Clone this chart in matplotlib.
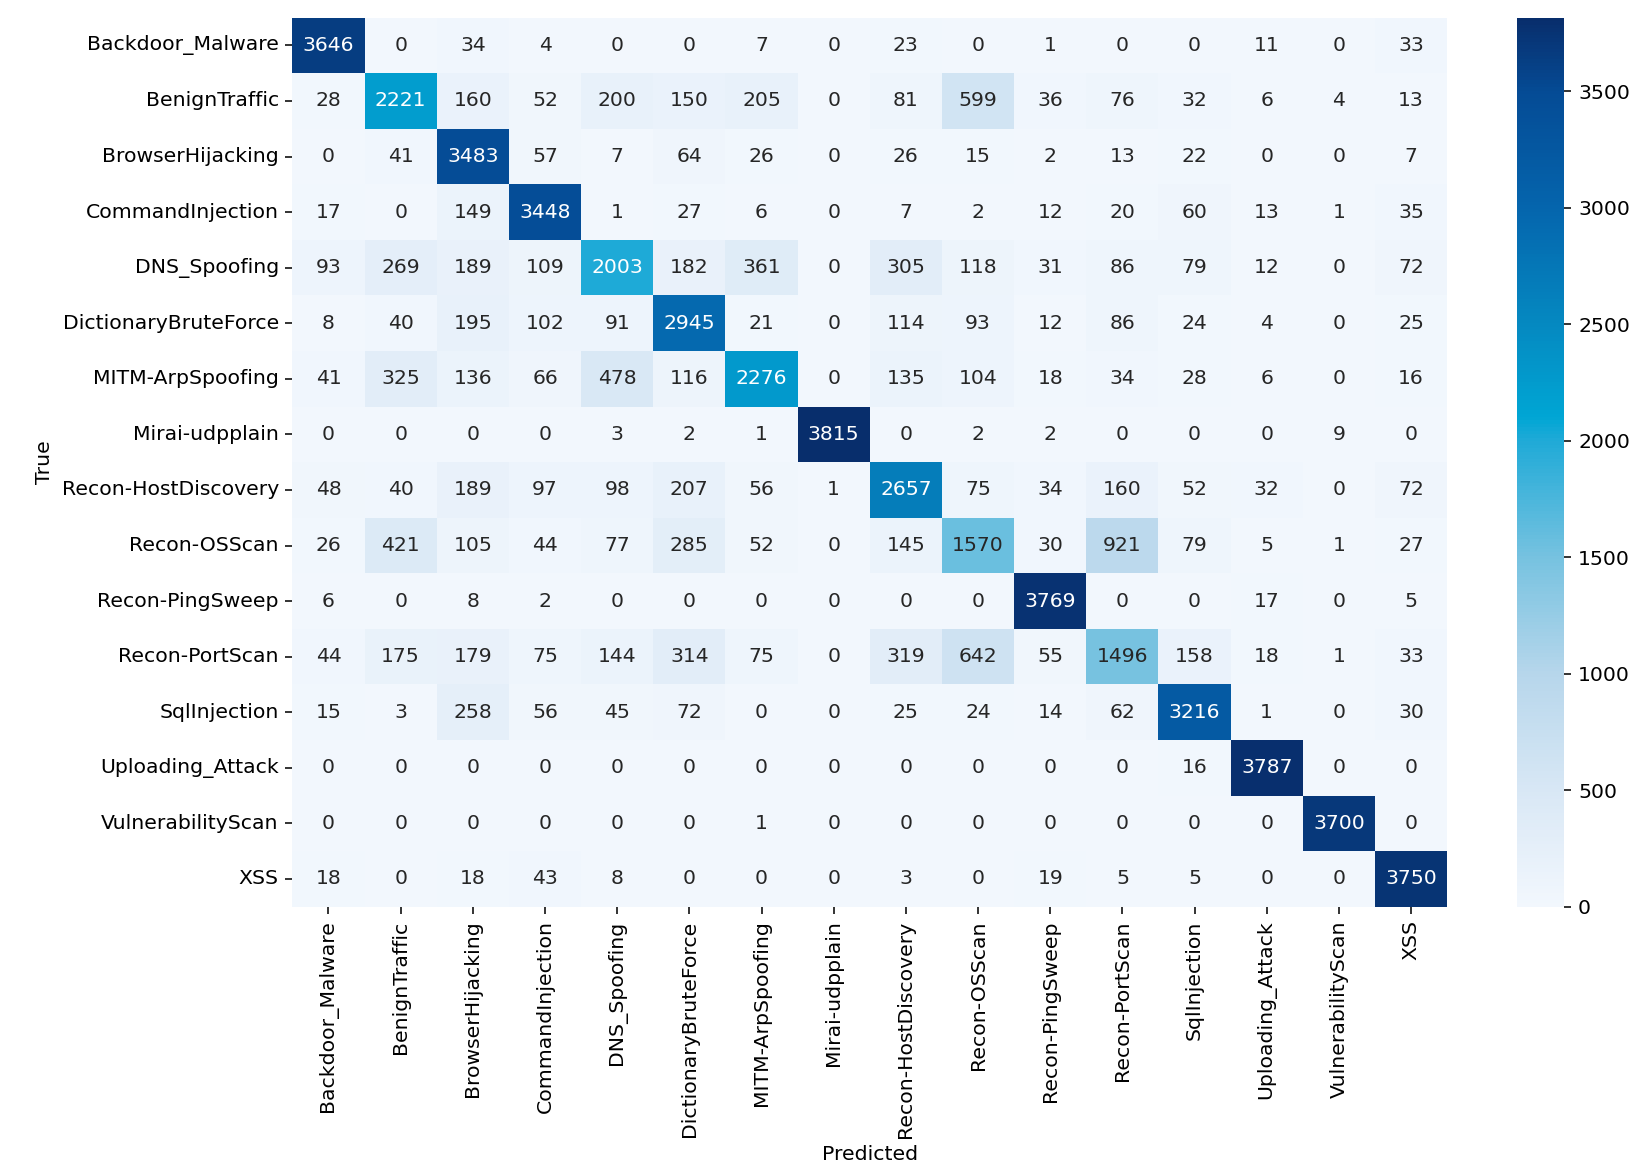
import numpy as np
import matplotlib
matplotlib.use('Agg')
import matplotlib.pyplot as plt
from matplotlib.colors import LinearSegmentedColormap
import seaborn as sns


# ------------------------------
# Data read off the confusion matrix
# ------------------------------
labels = [
    'Backdoor_Malware', 'BenignTraffic', 'BrowserHijacking', 'CommandInjection',
    'DNS_Spoofing', 'DictionaryBruteForce', 'MITM-ArpSpoofing', 'Mirai-udpplain',
    'Recon-HostDiscovery', 'Recon-OSScan', 'Recon-PingSweep', 'Recon-PortScan',
    'SqlInjection', 'Uploading_Attack', 'VulnerabilityScan', 'XSS',
]

row_backdoor = [3646, 0, 34, 4, 0, 0, 7, 0, 23, 0, 1, 0, 0, 11, 0, 33]
row_benign = [28, 2221, 160, 52, 200, 150, 205, 0, 81, 599, 36, 76, 32, 6, 4, 13]
row_browser = [0, 41, 3483, 57, 7, 64, 26, 0, 26, 15, 2, 13, 22, 0, 0, 7]
row_command = [17, 0, 149, 3448, 1, 27, 6, 0, 7, 2, 12, 20, 60, 13, 1, 35]
row_dns = [93, 269, 189, 109, 2003, 182, 361, 0, 305, 118, 31, 86, 79, 12, 0, 72]
row_dict = [8, 40, 195, 102, 91, 2945, 21, 0, 114, 93, 12, 86, 24, 4, 0, 25]
row_mitm = [41, 325, 136, 66, 478, 116, 2276, 0, 135, 104, 18, 34, 28, 6, 0, 16]
row_mirai = [0, 0, 0, 0, 3, 2, 1, 3815, 0, 2, 2, 0, 0, 0, 9, 0]
row_hostdisc = [48, 40, 189, 97, 98, 207, 56, 1, 2657, 75, 34, 160, 52, 32, 0, 72]
row_osscan = [26, 421, 105, 44, 77, 285, 52, 0, 145, 1570, 30, 921, 79, 5, 1, 27]
row_pingsweep = [6, 0, 8, 2, 0, 0, 0, 0, 0, 0, 3769, 0, 0, 17, 0, 5]
row_portscan = [44, 175, 179, 75, 144, 314, 75, 0, 319, 642, 55, 1496, 158, 18, 1, 33]
row_sql = [15, 3, 258, 56, 45, 72, 0, 0, 25, 24, 14, 62, 3216, 1, 0, 30]
row_upload = [0, 0, 0, 0, 0, 0, 0, 0, 0, 0, 0, 0, 16, 3787, 0, 0]
row_vuln = [0, 0, 0, 0, 0, 0, 1, 0, 0, 0, 0, 0, 0, 0, 3700, 0]
row_xss = [18, 0, 18, 43, 8, 0, 0, 0, 3, 0, 19, 5, 5, 0, 0, 3750]


# ------------------------------
# Colour map sampled from the reference colour bar (more cyan than plain Blues)
# ------------------------------
def make_cmap(vmax):
    stops = [
        (0, '#f2f7fd'),
        (500, '#d8e7f5'),
        (1000, '#b6d6eb'),
        (1500, '#76c2e0'),
        (2000, '#1faad7'),
        (2100, '#00a6d4'),
        (2500, '#0589c1'),
        (3000, '#0565ad'),
        (3500, '#054b95'),
        (vmax, '#082e6c'),
    ]
    return LinearSegmentedColormap.from_list(
        'ref_blues', [(v / vmax, c) for v, c in stops])


def main():
    cm = np.array([
        row_backdoor, row_benign, row_browser, row_command,
        row_dns, row_dict, row_mitm, row_mirai,
        row_hostdisc, row_osscan, row_pingsweep, row_portscan,
        row_sql, row_upload, row_vuln, row_xss,
    ])
    vmax = cm.max()

    fig = plt.figure(figsize=(1652 / 140, 1176 / 140), dpi=140)
    ax = fig.add_axes([0.177, 0.229, 0.699, 0.756])
    cax = fig.add_axes([0.918, 0.229, 0.029, 0.756])

    sns.heatmap(cm, annot=True, fmt='d', cmap=make_cmap(vmax), vmin=0, vmax=vmax,
                ax=ax, cbar_ax=cax, xticklabels=labels, yticklabels=labels,
                annot_kws={'fontsize': 10.5})

    ax.set_xlabel('Predicted', fontsize=10.5)
    ax.set_ylabel('True', fontsize=10.5)
    ax.tick_params(axis='both', labelsize=10.5)
    cax.tick_params(labelsize=10.5)

    fig.savefig('out.png', dpi=140)
    plt.close(fig)


if __name__ == '__main__':
    main()
